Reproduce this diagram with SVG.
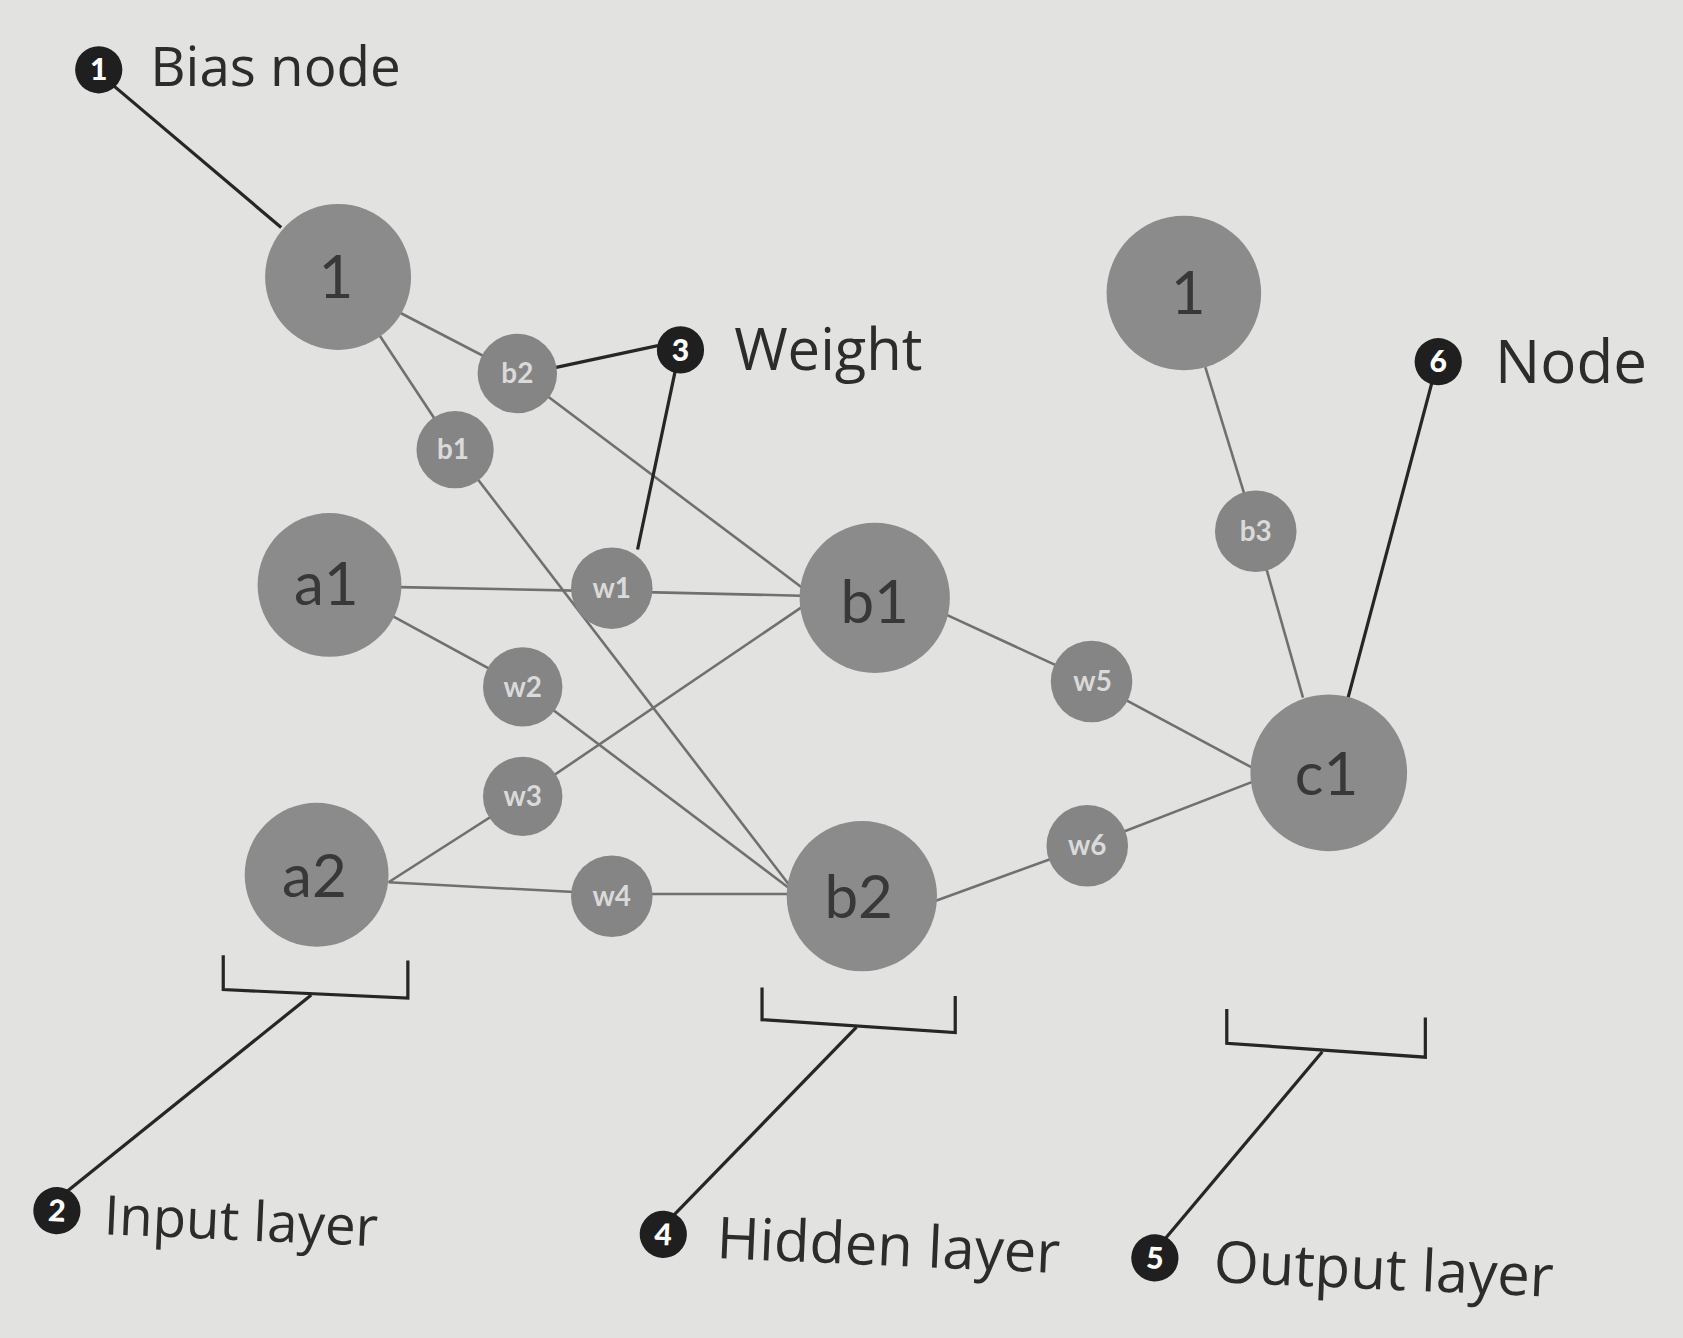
<svg xmlns="http://www.w3.org/2000/svg" width="1683" height="1338" viewBox="0 0 1683 1338">
<defs>
<style>
.bg{fill:#e2e2e0}
.big{fill:#8b8b8b}
.small{fill:#858585}
.bt{font-family:Lato,"Open Sans","Noto Sans",sans-serif;font-size:56px;fill:#383838;text-anchor:middle}
.st{font-family:Lato,"Open Sans","Noto Sans",sans-serif;font-size:26px;font-weight:bold;fill:#dadada;text-anchor:middle}
.edge{stroke:#707070;stroke-width:2.4;fill:none}
.lead{stroke:#262626;stroke-width:3;fill:none}
.co{fill:#1f1f1f}
.cn{font-family:Lato,"Open Sans","Noto Sans",sans-serif;font-size:28px;font-weight:900;fill:#ffffff;text-anchor:middle}
.lbl{font-family:"Open Sans",Lato,"Noto Sans",sans-serif;font-size:51px;fill:#2c2c2c}
</style>
</defs>
<rect class="bg" x="0" y="0" width="1683" height="1338"/>
<g transform="scale(1.0733)">
<g id="connectors">
<line class="edge" x1="370" y1="290" x2="482" y2="348"/>
<line class="edge" x1="482" y1="348" x2="748" y2="548"/>
<line class="edge" x1="352" y1="310" x2="424" y2="419"/>
<line class="edge" x1="424" y1="419" x2="738" y2="828"/>
<line class="edge" x1="372" y1="547" x2="570" y2="551"/>
<line class="edge" x1="570" y1="551" x2="746" y2="555"/>
<line class="edge" x1="362" y1="572" x2="487" y2="640"/>
<line class="edge" x1="487" y1="640" x2="736" y2="828"/>
<line class="edge" x1="362" y1="822" x2="487" y2="742"/>
<line class="edge" x1="487" y1="742" x2="748" y2="565"/>
<line class="edge" x1="362" y1="822" x2="570" y2="833"/>
<line class="edge" x1="570" y1="833" x2="736" y2="833"/>
<line class="edge" x1="880" y1="572" x2="1017" y2="635"/>
<line class="edge" x1="1017" y1="635" x2="1168" y2="716"/>
<line class="edge" x1="870" y1="840" x2="1013" y2="788"/>
<line class="edge" x1="1013" y1="788" x2="1168" y2="728"/>
<line class="edge" x1="1123" y1="342" x2="1170" y2="495"/>
<line class="edge" x1="1170" y1="495" x2="1214" y2="650"/>
<line class="lead" x1="106" y1="80" x2="262" y2="212"/>
<line class="lead" x1="515" y1="343" x2="613" y2="322"/>
<line class="lead" x1="629" y1="346" x2="594" y2="512"/>
<line class="lead" x1="1334" y1="357" x2="1256" y2="650"/>
<path class="lead" d="M208 890 L208 922 L380 930 L380 895"/>
<line class="lead" x1="290" y1="927" x2="60" y2="1112"/>
<path class="lead" d="M710 920 L710 950 L890 962 L890 928"/>
<line class="lead" x1="798" y1="957" x2="626" y2="1134"/>
<path class="lead" d="M1143 940 L1143 972 L1328 985 L1328 948"/>
<line class="lead" x1="1232" y1="980" x2="1084" y2="1156"/>
</g>
<g id="bias1"><circle class="big" cx="315" cy="258" r="68"/><text class="bt" x="313" y="278">1</text></g>
<g id="a1"><circle class="big" cx="307" cy="545" r="67"/><text class="bt" x="304" y="564">a1</text></g>
<g id="a2"><circle class="big" cx="295" cy="815" r="67"/><text class="bt" x="293" y="836">a2</text></g>
<g id="nb1"><circle class="big" cx="815" cy="557" r="70"/><text class="bt" x="815" y="580">b1</text></g>
<g id="nb2"><circle class="big" cx="803" cy="835" r="70"/><text class="bt" x="800" y="855">b2</text></g>
<g id="bias2"><circle class="big" cx="1103" cy="273" r="72"/><text class="bt" x="1107" y="293">1</text></g>
<g id="c1"><circle class="big" cx="1238" cy="720" r="73"/><text class="bt" x="1236" y="741">c1</text></g>
<g id="wb2"><circle class="small" cx="482" cy="348" r="37"/><text class="st" x="482" y="357">b2</text></g>
<g id="wb1"><circle class="small" cx="424" cy="419" r="36"/><text class="st" x="422" y="428">b1</text></g>
<g id="w1"><circle class="small" cx="570" cy="548" r="38"/><text class="st" x="570" y="557">w1</text></g>
<g id="w2"><circle class="small" cx="487" cy="640" r="37"/><text class="st" x="487" y="649">w2</text></g>
<g id="w3"><circle class="small" cx="487" cy="742" r="37"/><text class="st" x="487" y="751">w3</text></g>
<g id="w4"><circle class="small" cx="570" cy="835" r="38"/><text class="st" x="570" y="844">w4</text></g>
<g id="wb3"><circle class="small" cx="1170" cy="495" r="38"/><text class="st" x="1170" y="504">b3</text></g>
<g id="w5"><circle class="small" cx="1017" cy="635" r="38"/><text class="st" x="1018" y="644">w5</text></g>
<g id="w6"><circle class="small" cx="1013" cy="788" r="38"/><text class="st" x="1013" y="797">w6</text></g>
<g id="callout1"><circle class="co" cx="92" cy="65" r="22"/><text class="cn" x="92" y="75">1</text><text class="lbl" x="140" y="80">Bias node</text></g>
<g id="callout3"><circle class="co" cx="634" cy="326" r="22"/><text class="cn" x="634" y="336">3</text><text class="lbl" x="684" y="345" style="font-size:54px">Weight</text></g>
<g id="callout6"><circle class="co" cx="1340" cy="337" r="22"/><text class="cn" x="1340" y="347">6</text><text class="lbl" x="1393" y="357" style="font-size:56px">Node</text></g>
<g id="callout2" transform="rotate(2.5 53 1128)"><circle class="co" cx="53" cy="1128" r="22"/><text class="cn" x="53" y="1138">2</text><text class="lbl" x="97" y="1148">Input layer</text></g>
<g id="callout4" transform="rotate(2.5 618 1150)"><circle class="co" cx="618" cy="1150" r="22"/><text class="cn" x="618" y="1160">4</text><text class="lbl" x="668" y="1170" style="font-size:54px">Hidden layer</text></g>
<g id="callout5" transform="rotate(2.5 1076 1172)"><circle class="co" cx="1076" cy="1172" r="22"/><text class="cn" x="1076" y="1182">5</text><text class="lbl" x="1131" y="1192" style="font-size:54px">Output layer</text></g>
</g>
</svg>
